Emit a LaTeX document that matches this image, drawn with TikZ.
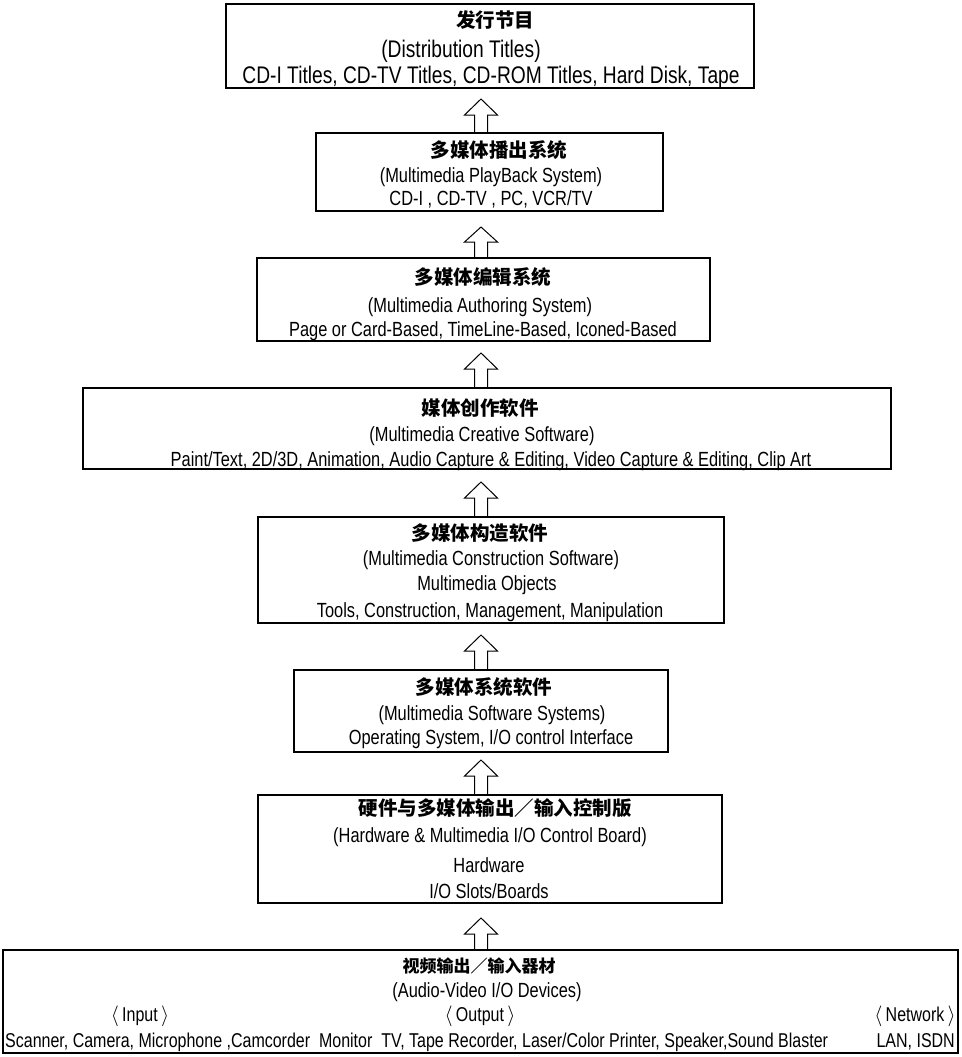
\documentclass[tikz,border=0pt]{standalone}
\usepackage{fontspec}
\setmainfont{Liberation Sans}[FakeStretch=0.8]
\newfontfamily\cjk{Noto Sans CJK SC}
\usetikzlibrary{calc}
\newcommand\mkbox[5]{\node[frame, minimum width={(#4-#2)*1pt}, minimum height={(#5-#3)*1pt}] (#1) at ({(#2+#4)/2},{(#3+#5)/2}) {};}
% #1 box name, #2 total length, #3 head height
\newcommand\hollowarr[3]{\draw[arr] ($(481,0 |- #1.north)+(-6.5,0)$) -- ++(0,{-(#2-#3)}) -- ++(-10,0) -- ++(16.5,{-#3}) -- ++(16.5,{#3}) -- ++(-10,0) -- ++(0,{#2-#3});}
\begin{document}
\begin{tikzpicture}[x=1pt,y=-1pt,
  frame/.style={draw, line width=1.3pt, inner sep=0pt, outer sep=0pt},
  en/.style={font=\fontsize{20.5}{22}\selectfont, inner sep=0pt, anchor=base},
  enbig/.style={en, font=\fontsize{24}{26}\selectfont},
  enbot/.style={en, font=\fontsize{20}{22}\selectfont},
  cn/.style={font=\cjk\bfseries\fontsize{19.5}{22}\selectfont, inner sep=0pt, anchor=base},
  cnsmall/.style={cn, font=\cjk\bfseries\fontsize{17}{20}\selectfont},
  arr/.style={line width=1pt, line join=miter}]
\useasboundingbox (0,0) rectangle (961,1057);
\mkbox{b1}{226}{4}{754}{88}
\mkbox{b2}{316}{133}{663}{211}
\mkbox{b3}{257}{258}{710}{341}
\mkbox{b4}{83}{388}{891}{469}
\mkbox{b5}{258}{517}{724}{623}
\mkbox{b6}{294}{670}{668}{752}
\mkbox{b7}{258}{795}{722}{903}
\mkbox{b8}{3}{950}{958}{1053}
% box 1
\node[cn] (t1a) at (495,28) {发行节目};
\node[enbig] (t1b) at (461,58) {(Distribution Titles)};
\node[enbig] (t1c) at (491,84) {CD-I Titles, CD-TV Titles, CD-ROM Titles, Hard Disk, Tape};
% box 2
\node[cn] (t2a) at (499,157) {多媒体播出系统};
\node[en] (t2b) at (491,182) {(Multimedia PlayBack System)};
\node[en] (t2c) at (491,205) {CD-I , CD-TV , PC, VCR/TV};
% box 3
\node[cn] (t3a) at (483,284) {多媒体编辑系统};
\node[en] (t3b) at (480,312) {(Multimedia Authoring System)};
\node[en] (t3c) at (483,336) {Page or Card-Based, TimeLine-Based, Iconed-Based};
% box 4
\node[cn] (t4a) at (480,415) {媒体创作软件};
\node[en] (t4b) at (482,441) {(Multimedia Creative Software)};
\node[en] (t4c) at (491,466) {Paint/Text, 2D/3D, Animation, Audio Capture \& Editing, Video Capture \& Editing, Clip Art};
% box 5
\node[cn] (t5a) at (480,540) {多媒体构造软件};
\node[en] (t5b) at (491,565) {(Multimedia Construction Software)};
\node[en] (t5c) at (487,590) {Multimedia Objects};
\node[en] (t5d) at (490,617) {Tools, Construction, Management, Manipulation};
% box 6
\node[cn] (t6a) at (484,694) {多媒体系统软件};
\node[en] (t6b) at (492,720) {(Multimedia Software Systems)};
\node[en] (t6c) at (491,744) {Operating System, I/O control Interface};
% box 7
\node[cn] (t7a) at (495,815) {硬件与多媒体输出／输入控制版};
\node[en] (t7b) at (490,842) {(Hardware \& Multimedia I/O Control Board)};
\node[en] (t7c) at (489,872) {Hardware};
\node[en] (t7d) at (489,898) {I/O Slots/Boards};
% box 8
\node[cnsmall] (t8a) at (479,972) {视频输出／输入器材};
\node[en] (t8b) at (487,997) {(Audio-Video I/O Devices)};
\node[enbot] (t8c) at (140,1021) {$\langle$\,Input\,$\rangle$};
\node[enbot] (t8d) at (480,1021) {$\langle$\,Output\,$\rangle$};
\node[enbot, anchor=base east] (t8e) at (956,1021) {$\langle$\,Network\,$\rangle$};
\node[enbot, anchor=base west] (t8f) at (5,1047) {Scanner, Camera, Microphone ,Camcorder\ \ Monitor\ \ TV, Tape Recorder, Laser/Color Printer, Speaker,Sound Blaster};
\node[enbot, anchor=base east] (t8g) at (955,1047) {LAN, ISDN};
% arrows
\hollowarr{b2}{34}{16}
\hollowarr{b3}{31}{15}
\hollowarr{b4}{35}{16}
\hollowarr{b5}{35}{16}
\hollowarr{b6}{35}{16}
\hollowarr{b7}{35}{16}
\hollowarr{b8}{32}{16}
\end{tikzpicture}
\end{document}
